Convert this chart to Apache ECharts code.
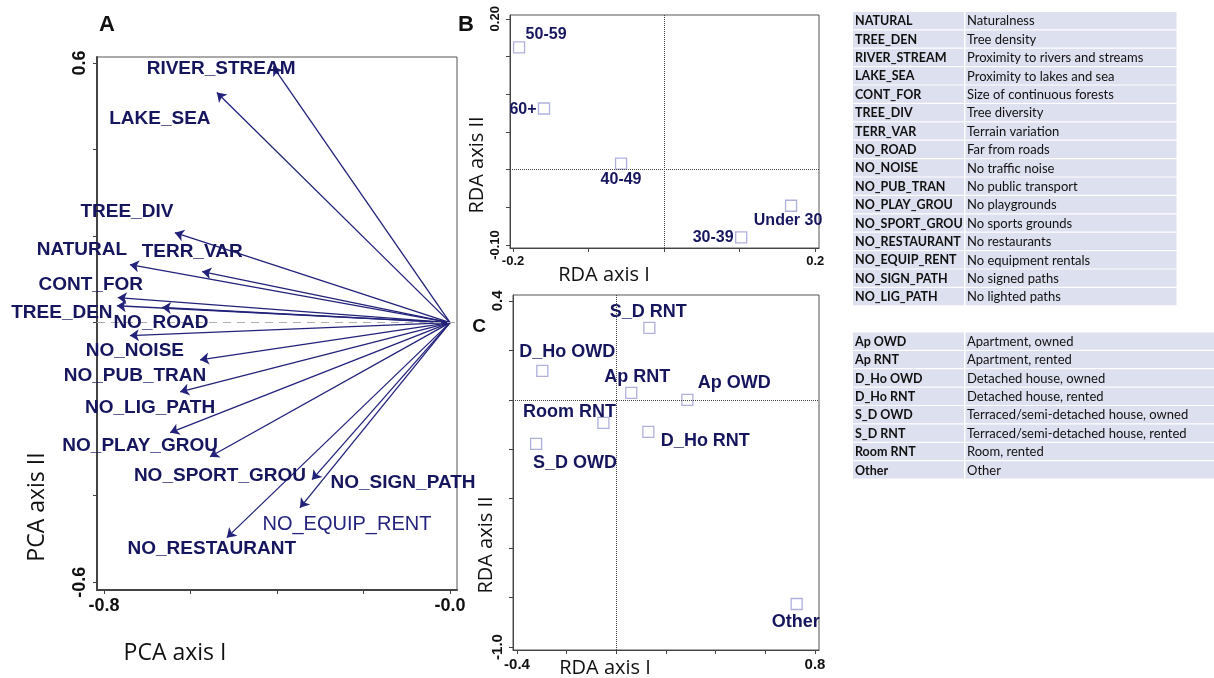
<!DOCTYPE html>
<html>
<head>
<meta charset="utf-8">
<script src="https://cdn.jsdelivr.net/npm/echarts@6/dist/echarts.min.js"></script>
<style>
  html, body { margin: 0; padding: 0; background: #fff; }
  #chart { width: 1214px; height: 678px; }
</style>
</head>
<body>
<div id="chart"></div>
<script>
// ---- panel A : PCA loadings ----
const pcaVars = ['RIVER_STREAM', 'LAKE_SEA', 'TREE_DIV', 'NATURAL', 'TERR_VAR', 'CONT_FOR', 'TREE_DEN', 'NO_ROAD',
  'NO_NOISE', 'NO_PUB_TRAN', 'NO_LIG_PATH', 'NO_PLAY_GROU', 'NO_SPORT_GROU', 'NO_SIGN_PATH', 'NO_EQUIP_RENT', 'NO_RESTAURANT'];
const pcaX = [-0.409, -0.539, -0.636, -0.740, -0.573, -0.768, -0.770, -0.666,
  -0.740, -0.578, -0.624, -0.647, -0.555, -0.319, -0.347, -0.516];
const pcaY = [0.592, 0.532, 0.208, 0.134, 0.118, 0.058, 0.039, 0.035,
  -0.030, -0.086, -0.160, -0.254, -0.310, -0.363, -0.428, -0.497];

// ---- panel B : age groups ----
const ageGroups = ['50-59', '60+', '40-49', 'Under 30', '30-39'];
const ageX = [-0.192, -0.159, -0.057, 0.168, 0.102];
const ageY = [0.162, 0.081, 0.008, -0.048, -0.090];

// ---- panel C : housing ----
const houseGroups = ['S_D RNT', 'D_Ho OWD', 'Ap RNT', 'Ap OWD', 'Room RNT', 'D_Ho RNT', 'S_D OWD', 'Other'];
const houseX = [0.133, -0.298, 0.060, 0.286, -0.052, 0.129, -0.323, 0.726];
const houseY = [0.291, 0.117, 0.028, 0.000, -0.093, -0.130, -0.178, -0.826];

// ---- legend tables ----
const varCodes = ['NATURAL', 'TREE_DEN', 'RIVER_STREAM', 'LAKE_SEA', 'CONT_FOR', 'TREE_DIV', 'TERR_VAR', 'NO_ROAD',
  'NO_NOISE', 'NO_PUB_TRAN', 'NO_PLAY_GROU', 'NO_SPORT_GROU', 'NO_RESTAURANT', 'NO_EQUIP_RENT', 'NO_SIGN_PATH', 'NO_LIG_PATH'];
const varNames = ['Naturalness', 'Tree density', 'Proximity to rivers and streams', 'Proximity to lakes and sea',
  'Size of continuous forests', 'Tree diversity', 'Terrain variation', 'Far from roads', 'No traffic noise',
  'No public transport', 'No playgrounds', 'No sports grounds', 'No restaurants', 'No equipment rentals',
  'No signed paths', 'No lighted paths'];
const houseCodes = ['Ap OWD', 'Ap RNT', 'D_Ho OWD', 'D_Ho RNT', 'S_D OWD', 'S_D RNT', 'Room RNT', 'Other'];
const houseNames = ['Apartment, owned', 'Apartment, rented', 'Detached house, owned', 'Detached house, rented',
  'Terraced/semi-detached house, owned', 'Terraced/semi-detached house, rented', 'Room, rented', 'Other'];

// tick values
const ticksAX = [-0.8, -0.6, -0.4, -0.2, 0];
const ticksAY = [-0.6, -0.4, -0.2, 0, 0.2, 0.4, 0.6];
const ticksBX = [-0.2, -0.1, 0, 0.1, 0.2];
const ticksBY = [-0.10, -0.05, 0, 0.05, 0.10, 0.15, 0.20];
const ticksCX = [-0.4, -0.2, 0, 0.2, 0.4, 0.6, 0.8];
const ticksCY = [-1.0, -0.8, -0.6, -0.4, -0.2, 0, 0.2, 0.4];

// label placement (pixel offsets from point), layout only
const pcaLabelOff = [[-52, 2], [-57, 26], [-48, -21], [-48, -15], [-10, -20], [-27, -13], [-55, 7], [-1, 15],
  [5, 15], [-65, 16], [-30, 16], [-30, 13], [10, 19], [91, 3], [47, 17], [-15, 11]];
const ageLabelOff = [[27, -13], [-21, 1], [0, 16], [-3, 15], [-28, 0]];
const houseLabelOff = [[-1, -16], [25, -19], [6, -16], [47, -17], [-34, -11], [57, 9], [39, 19], [-1, 18]];

const navy = '#16165e';
const arrowCol = '#22227a';
const boxCol = '#555';
const sqCol = '#9c9cd4';

var chart = echarts.init(document.getElementById('chart'));

function xAx(gi, min, max, ticks, labels, fmt, size, lw) {
  return {
    type: 'value', gridIndex: gi, min: min, max: max,
    axisLine: { onZero: false, lineStyle: { color: '#444', width: lw } },
    axisTick: { show: true, length: 4, customValues: ticks, lineStyle: { color: '#444' } },
    axisLabel: { customValues: labels, formatter: fmt, margin: 7, color: '#111',
      fontFamily: 'Liberation Sans', fontWeight: 'bold', fontSize: size },
    splitLine: { show: false }
  };
}
function yAx(gi, min, max, ticks, labels, fmt, size, lw, margin) {
  return {
    type: 'value', gridIndex: gi, min: min, max: max,
    axisLine: { onZero: false, lineStyle: { color: '#444', width: lw } },
    axisTick: { show: true, length: 4, customValues: ticks, lineStyle: { color: '#444' } },
    axisLabel: { customValues: labels, formatter: fmt, rotate: 90, margin: margin, color: '#111',
      fontFamily: 'Liberation Sans', fontWeight: 'bold', fontSize: size },
    splitLine: { show: false }
  };
}

function pointLabel(offs, i, size) {
  return {
    show: true, position: 'inside', offset: offs[i], color: navy, formatter: '{b}',
    textBorderWidth: 0, opacity: 1,
    fontFamily: 'Liberation Sans', fontWeight: 'bold', fontSize: size
  };
}

const arrowData = pcaVars.map((n, i) => ({ name: n, coords: [[0, 0], [pcaX[i], pcaY[i]]] }));
const tipData = pcaVars.map((n, i) => {
  const lab = pointLabel(pcaLabelOff, i, 19);
  if (n === 'NO_EQUIP_RENT') { lab.fontWeight = 'normal'; lab.fontSize = 20; lab.color = '#24247e'; }
  return { name: n, value: [pcaX[i], pcaY[i]], label: lab };
});
const ageData = ageGroups.map((n, i) => ({ name: n, value: [ageX[i], ageY[i]], label: pointLabel(ageLabelOff, i, 16) }));
const houseData = houseGroups.map((n, i) => ({ name: n, value: [houseX[i], houseY[i]], label: pointLabel(houseLabelOff, i, 18) }));

// tables as graphic elements
const graphics = [];
function addTable(codes, names, top, rowH, w2) {
  codes.forEach((c, i) => {
    const y = top + i * rowH;
    graphics.push({ type: 'rect', shape: { x: 853, y: y, width: 111, height: rowH - 1.2 }, style: { fill: '#dde0ee' } });
    graphics.push({ type: 'rect', shape: { x: 965.5, y: y, width: w2, height: rowH - 1.2 }, style: { fill: '#dde0ee' } });
    graphics.push({ type: 'text', x: 855, y: y + rowH / 2, style: { text: c, fill: '#111', font: 'bold 12.5px Lato', verticalAlign: 'middle' } });
    graphics.push({ type: 'text', x: 967, y: y + rowH / 2, style: { text: names[i], fill: '#111', font: '13px Lato', verticalAlign: 'middle' } });
  });
}
addTable(varCodes, varNames, 12, 18.4, 211);
addTable(houseCodes, houseNames, 332.5, 18.4, 250);

function txt(s, x, y, font, rot) {
  graphics.push({ type: 'text', x: x, y: y, rotation: rot || 0,
    style: { text: s, fill: '#111', font: font, align: 'center', verticalAlign: 'middle' } });
}
txt('A', 107, 25, 'bold 22px Liberation Sans');
txt('B', 466, 25, 'bold 22px Liberation Sans');
txt('C', 479, 327, 'bold 19px Liberation Sans');
txt('PCA axis I', 175, 653, '23px Open Sans');
txt('PCA axis II', 37, 507, '23px Open Sans', Math.PI / 2);
txt('RDA axis I', 604, 275, '20px Open Sans');
txt('RDA axis II', 477, 165, '20px Open Sans', Math.PI / 2);
txt('RDA axis I', 605, 668, '20px Open Sans');
txt('RDA axis II', 486, 545, '20px Open Sans', Math.PI / 2);

const zeroLines = {
  silent: true, symbol: ['none', 'none'], label: { show: false },
  lineStyle: { type: 'dotted', color: '#444', width: 1 },
  data: [{ xAxis: 0 }, { yAxis: 0 }]
};

const option = {
  animation: false,
  backgroundColor: '#fff',
  grid: [
    { left: 97, top: 57, width: 360, height: 533, show: true, borderColor: boxCol, borderWidth: 1, outerBoundsMode: 'none' },
    { left: 510, top: 15, width: 309, height: 233, show: true, borderColor: boxCol, borderWidth: 1, outerBoundsMode: 'none' },
    { left: 513, top: 295, width: 306, height: 355, show: true, borderColor: boxCol, borderWidth: 1, outerBoundsMode: 'none' }
  ],
  xAxis: [
    xAx(0, -0.816, 0.016, ticksAX, [-0.8, 0], v => (v === 0 ? '-0.0' : v.toFixed(1)), 18, 2),
    xAx(1, -0.204, 0.205, ticksBX, [-0.2, 0.2], v => v.toFixed(1), 13, 1),
    xAx(2, -0.416, 0.816, ticksCX, [-0.4, 0.8], v => v.toFixed(1), 15, 1)
  ],
  yAxis: [
    yAx(0, -0.618, 0.614, ticksAY, [-0.6, 0.6], v => v.toFixed(1), 18, 2, 8),
    yAx(1, -0.104, 0.205, ticksBY, [-0.10, 0.20], v => v.toFixed(2), 13, 1, 8),
    yAx(2, -1.012, 0.424, ticksCY, [-1.0, 0.4], v => v.toFixed(1), 15, 1, 8)
  ],
  graphic: graphics,
  series: [
    {
      type: 'lines', coordinateSystem: 'cartesian2d', xAxisIndex: 0, yAxisIndex: 0,
      symbol: ['none', 'arrow'], symbolSize: 9,
      lineStyle: { color: arrowCol, width: 1.3, opacity: 1 },
      data: arrowData,
      markLine: {
        silent: true, symbol: ['none', 'none'], label: { show: false },
        lineStyle: { type: [8, 6], color: '#b0b0b0', width: 1 },
        data: [{ yAxis: 0 }]
      }
    },
    {
      type: 'scatter', xAxisIndex: 0, yAxisIndex: 0, symbolSize: 1,
      itemStyle: { color: 'rgba(0,0,0,0)' }, data: tipData, z: 5
    },
    {
      type: 'scatter', xAxisIndex: 1, yAxisIndex: 1, symbol: 'rect', symbolSize: 11,
      itemStyle: { color: 'rgba(0,0,0,0)', borderColor: sqCol, borderWidth: 1.3 },
      data: ageData, markLine: zeroLines
    },
    {
      type: 'scatter', xAxisIndex: 2, yAxisIndex: 2, symbol: 'rect', symbolSize: 11,
      itemStyle: { color: 'rgba(0,0,0,0)', borderColor: sqCol, borderWidth: 1.3 },
      data: houseData, markLine: zeroLines
    }
  ]
};
chart.setOption(option);
</script>
</body>
</html>
